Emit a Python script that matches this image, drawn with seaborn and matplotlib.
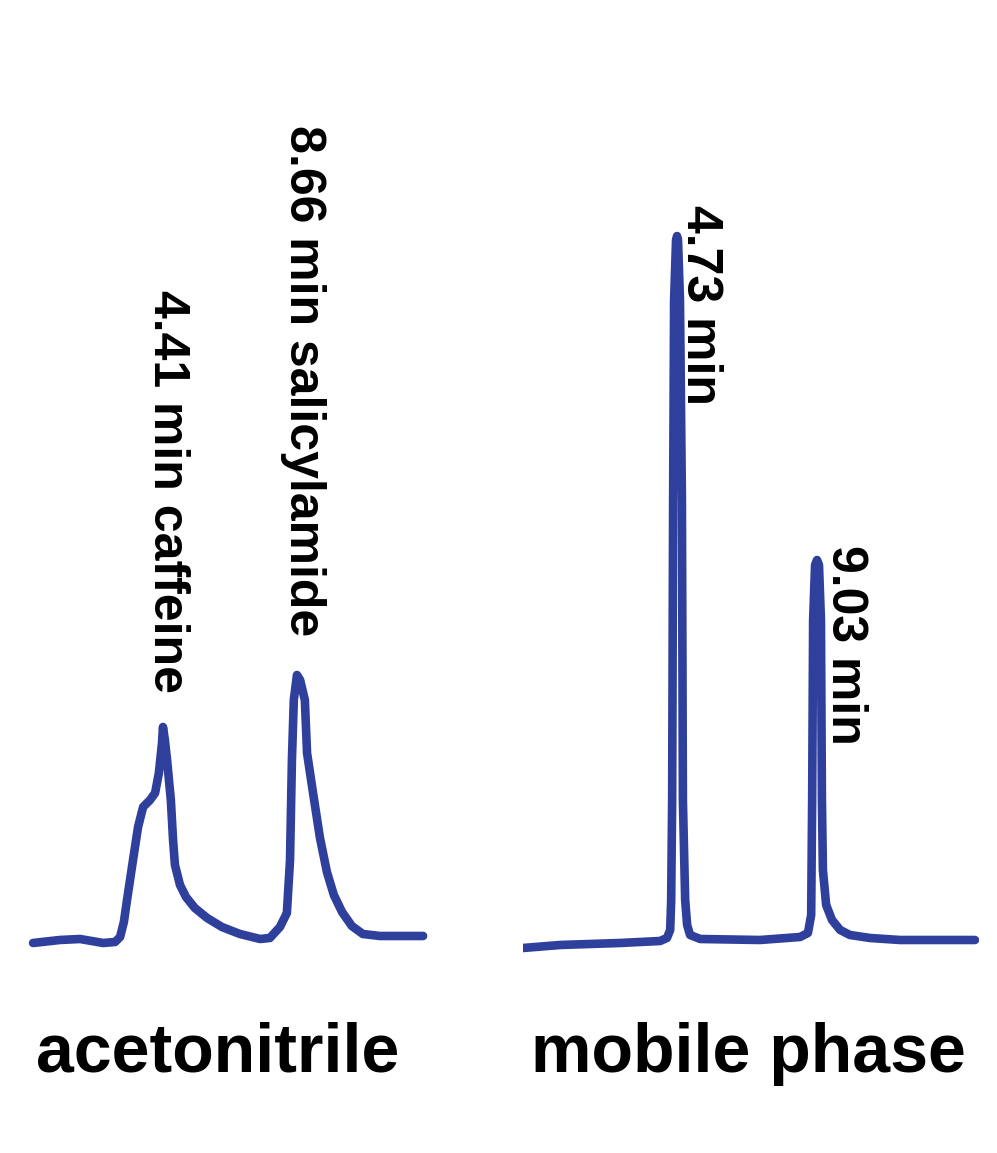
import numpy as np
import pandas as pd
import seaborn as sns
import matplotlib.pyplot as plt

# retention time (min) and detector signal (arbitrary units)
acn_time = [0.29, 1.14, 1.78, 2.51, 2.89, 3.05, 3.17, 3.27, 3.46, 3.62, 3.78, 4.00, 4.16, 4.28,
            4.38, 4.41, 4.47, 4.54, 4.66, 4.73, 4.79, 4.95, 5.14, 5.42, 5.81, 6.28, 6.85, 7.49,
            7.80, 8.12, 8.34, 8.44, 8.50, 8.56, 8.66, 8.76, 8.91, 8.98, 9.17, 9.39, 9.61, 9.83,
            10.09, 10.40, 10.75, 11.29, 12.66]
acn_signal = [-1, 2, 3, -1, 0, 5, 20, 42, 82, 115, 135, 142, 149, 169,
              199, 215, 202, 182, 142, 102, 77, 57, 45, 34, 24, 15, 8, 3,
              4, 15, 29, 82, 182, 242, 267, 262, 242, 189, 149, 104, 70, 47,
              30, 16, 8, 6, 6]

mp_time = [0.00, 1.14, 2.98, 4.21, 4.42, 4.52, 4.55, 4.58, 4.61, 4.64, 4.70, 4.73, 4.76, 4.82,
           4.88, 4.91, 4.98, 5.04, 5.13, 5.44, 7.28, 8.51, 8.75, 8.85, 8.88, 8.91, 8.97, 9.03,
           9.09, 9.15, 9.18, 9.21, 9.31, 9.49, 9.74, 10.04, 10.66, 11.58, 13.88]
mp_signal = [-6, -3, -1, 1, 4, 12, 42, 142, 442, 642, 702, 706, 702, 642,
             442, 142, 42, 17, 7, 3, 2, 5, 9, 27, 142, 322, 377, 382,
             377, 322, 142, 72, 37, 22, 12, 7, 4, 2, 2]

panel_names = ["acetonitrile", "mobile phase"]
acn_labels = ["4.41 min caffeine", "8.66 min salicylamide"]
acn_label_pos = [(4.54, 652), (8.85, 817)]
mp_labels = ["4.73 min", "9.03 min"]
mp_label_pos = [(5.44, 737), (9.89, 397)]

sns.set_theme(style="white")
plt.rcParams['font.family'] = ['Liberation Sans', 'DejaVu Sans']
plt.rcParams['text.color'] = 'black'

line_color = "#2f3f9c"

fig = plt.figure(figsize=(9.97, 11.53), dpi=100)
ax1 = fig.add_axes([0.0240, 0.1674, 0.4111, 0.6591])
ax2 = fig.add_axes([0.5246, 0.1674, 0.4572, 0.6591])

df_acn = pd.DataFrame({"time": acn_time, "signal": acn_signal})
df_mp = pd.DataFrame({"time": mp_time, "signal": mp_signal})

for ax, df, xlim in [(ax1, df_acn, (0, 13)), (ax2, df_mp, (0, 14))]:
    sns.lineplot(data=df, x="time", y="signal", ax=ax, color=line_color,
                 linewidth=6.2, sort=False, estimator=None)
    for l in ax.get_lines():
        l.set_solid_joinstyle("round")
        l.set_solid_capstyle("round")
    ax.set_xlim(*xlim)
    ax.set_ylim(-18, 742)
    ax.axis("off")

for txt, (t, s) in zip(acn_labels, acn_label_pos):
    ax1.text(t, s, txt, rotation=270, ha="center", va="top", color="black",
             fontsize=36, fontweight="bold", clip_on=False)
for txt, (t, s) in zip(mp_labels, mp_label_pos):
    ax2.text(t, s, txt, rotation=270, ha="center", va="top", color="black",
             fontsize=36, fontweight="bold", clip_on=False)

fig.text(218 / 997, 0.0703, panel_names[0], ha="center", va="baseline",
         fontsize=49, fontweight="bold", color="black")
fig.text(748 / 997, 0.0703, panel_names[1], ha="center", va="baseline",
         fontsize=49, fontweight="bold", color="black")

fig.savefig("out.png", dpi=100)
